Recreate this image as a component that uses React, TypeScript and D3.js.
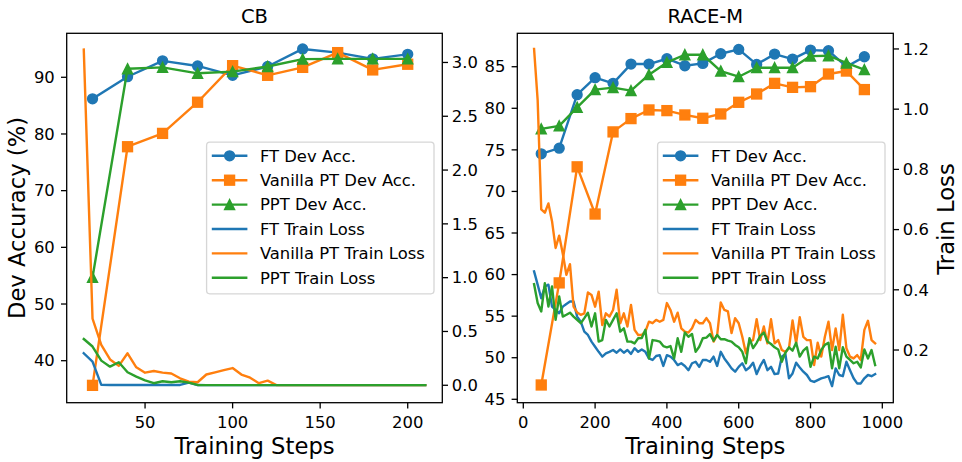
import React from 'react';
import * as d3 from 'd3';

// ---------------- data ----------------
const legendLabels = [
  'FT Dev Acc.',
  'Vanilla PT Dev Acc.',
  'PPT Dev Acc.',
  'FT Train Loss',
  'Vanilla PT Train Loss',
  'PPT Train Loss',
];
const panelTitles = ['CB', 'RACE-M'];

// CB
const cbAccSteps = [20, 40, 60, 80, 100, 120, 140, 160, 180, 200];
const cbFtAcc = [86.2, 90.1, 92.9, 92.0, 90.35, 91.9, 95.0, 94.35, 93.25, 94.05];
const cbVanillaAcc = [35.65, 77.75, 80.1, 85.6, 92.05, 90.35, 91.75, 94.35, 91.3, 92.3];
const cbPptAcc = [54.7, 91.5, 91.75, 90.7, 91.0, 91.9, 93.2, 93.25, 93.25, 93.25];
const cbLossSteps = d3.range(15, 215, 5);
const cbFtLoss = [
  0.297, 0.22, 0.004, 0.003, 0.003, 0.003, 0.003, 0.003, 0.003, 0.003, 0.003, 0.003,
  0.025, 0.002, 0.001, 0.001, 0.001, 0.001, 0.001, 0.001, 0.001, 0.001, 0.001, 0.001,
  0.001, 0.001, 0.001, 0.001, 0.001, 0.001, 0.001, 0.001, 0.001, 0.001, 0.001, 0.001,
  0.001, 0.001, 0.001, 0.001,
];
const cbVanillaLoss = [
  3.12, 0.62, 0.375, 0.24, 0.18, 0.297, 0.167, 0.117, 0.133, 0.117, 0.11, 0.065,
  0.034, 0.028, 0.1, 0.12, 0.14, 0.16, 0.1, 0.07, 0.019, 0.043, 0.002, 0.001,
  0.001, 0.001, 0.001, 0.001, 0.001, 0.001, 0.001, 0.001, 0.001, 0.001, 0.001, 0.001,
  0.001, 0.001, 0.001, 0.001,
];
const cbPptLoss = [
  0.43, 0.36, 0.229, 0.173, 0.214, 0.121, 0.08, 0.045, 0.019, 0.037, 0.028, 0.037,
  0.025, 0.003, 0.001, 0.001, 0.001, 0.001, 0.001, 0.001, 0.001, 0.001, 0.001, 0.001,
  0.001, 0.001, 0.001, 0.001, 0.001, 0.001, 0.001, 0.001, 0.001, 0.001, 0.001, 0.001,
  0.001, 0.001, 0.001, 0.001,
];

// RACE-M
const raceAccSteps = [50, 100, 150, 200, 250, 300, 350, 400, 450, 500, 550, 600, 650, 700, 750, 800, 850, 900, 950];
const raceFtAcc = [74.52, 75.2, 81.64, 83.68, 83.0, 85.32, 85.32, 85.96, 85.12, 85.4, 86.56, 87.08, 85.28, 86.52, 85.92, 87.0, 86.92, 85.0, 86.2];
const raceVanillaAcc = [46.72, 59.0, 72.96, 67.28, 77.16, 78.76, 79.8, 79.72, 79.2, 78.8, 79.32, 80.72, 81.72, 83.0, 82.52, 82.6, 84.12, 84.48, 82.25];
const racePptAcc = [77.52, 77.88, 80.12, 82.24, 82.48, 82.12, 84.04, 85.52, 86.44, 86.44, 84.48, 83.8, 84.88, 84.88, 84.88, 86.28, 86.32, 85.45, 84.65];
const raceLossSteps = d3.range(30, 990, 10);
const raceFtLoss = [
  0.461, 0.417, 0.372, 0.411, 0.417, 0.344, 0.333, 0.322, 0.344, 0.353, 0.361, 0.361,
  0.311, 0.294, 0.261, 0.25, 0.228, 0.211, 0.194, 0.178, 0.189, 0.194, 0.2, 0.191,
  0.202, 0.191, 0.2, 0.187, 0.206, 0.194, 0.202, 0.194, 0.172,
  0.167, 0.18, 0.183, 0.147, 0.183, 0.178, 0.167, 0.15, 0.156, 0.147,
  0.133, 0.156, 0.161, 0.144, 0.167, 0.167, 0.161, 0.178, 0.147, 0.194,
  0.172, 0.156, 0.139, 0.128, 0.144, 0.156, 0.133, 0.142, 0.158, 0.12,
  0.147, 0.167, 0.133, 0.144, 0.12, 0.122, 0.178, 0.187, 0.106, 0.122,
  0.158, 0.142, 0.128, 0.117, 0.098, 0.094, 0.1, 0.106, 0.109, 0.113,
  0.08, 0.139, 0.117, 0.113, 0.161, 0.133, 0.106, 0.089, 0.089, 0.106,
  0.117, 0.113, 0.12,
];
const raceVanillaLoss = [
  1.2, 1.03, 0.667, 0.656, 0.687, 0.628, 0.539, 0.58, 0.52, 0.45, 0.485,
  0.344, 0.325, 0.317, 0.322, 0.391, 0.383, 0.344, 0.394, 0.283, 0.322,
  0.311, 0.333, 0.4, 0.289, 0.322, 0.278, 0.35, 0.267, 0.25, 0.25,
  0.261, 0.294, 0.289, 0.3, 0.294, 0.3, 0.356, 0.333, 0.294, 0.324,
  0.272, 0.261, 0.258, 0.272, 0.3, 0.289, 0.289, 0.306, 0.289, 0.228,
  0.25, 0.358, 0.333, 0.328, 0.256, 0.306, 0.289, 0.244, 0.189, 0.228,
  0.233, 0.302, 0.233, 0.278, 0.222, 0.302, 0.222, 0.233, 0.2, 0.194,
  0.206, 0.298, 0.222, 0.309, 0.244, 0.233, 0.233, 0.15, 0.224, 0.178,
  0.244, 0.294, 0.2, 0.272, 0.2, 0.317, 0.206, 0.178, 0.172, 0.183,
  0.167, 0.267, 0.297, 0.233, 0.222,
];
const racePptLoss = [
  0.419, 0.356, 0.328, 0.422, 0.344, 0.411, 0.3, 0.378, 0.311, 0.317, 0.324, 0.311,
  0.3, 0.289, 0.306, 0.324, 0.278, 0.322,
  0.228, 0.233, 0.3, 0.278, 0.3, 0.322, 0.261, 0.272, 0.228, 0.228,
  0.222, 0.239, 0.24, 0.267, 0.172, 0.233, 0.231, 0.228, 0.213, 0.209,
  0.213, 0.172, 0.239, 0.194, 0.258, 0.244, 0.253, 0.194, 0.211, 0.239,
  0.241, 0.253, 0.231, 0.25, 0.236, 0.236, 0.231, 0.228,
  0.217, 0.209, 0.194, 0.156, 0.239, 0.206, 0.224, 0.247, 0.258, 0.228,
  0.22, 0.209, 0.202, 0.161, 0.191, 0.209, 0.198, 0.224, 0.178, 0.198,
  0.209, 0.144, 0.178, 0.172, 0.2, 0.217, 0.224, 0.139, 0.211, 0.139,
  0.209, 0.178, 0.167, 0.156, 0.161, 0.142, 0.202, 0.172, 0.2, 0.15,
];

// tick labels
const cbXTicks = [50, 100, 150, 200];
const cbAccTicks = [40, 50, 60, 70, 80, 90];
const cbLossTicks = ['0.0', '0.5', '1.0', '1.5', '2.0', '2.5', '3.0'];
const raceXTicks = [0, 200, 400, 600, 800, 1000];
const raceAccTicks = [45, 50, 55, 60, 65, 70, 75, 80, 85];
const raceLossTicks = ['0.2', '0.4', '0.6', '0.8', '1.0', '1.2'];

// ---------------- style ----------------
const COLORS = ['#1f77b4', '#ff7f0e', '#2ca02c'];
const FONT = "'DejaVu Sans', sans-serif";
const TOP = 33.3;
const BOTTOM = 402.7;
const LW = 2.4;
const MS = 9.7;
const TICK_FS = 16.4;
const TICK_LEN = 5.7;

type Panel = {
  title: string;
  x0: number;
  x1: number;
  xDomain: [number, number];
  accDomain: [number, number];
  lossDomain: [number, number];
  xTicks: number[];
  accTicks: number[];
  lossTicks: string[];
  accSteps: number[];
  acc: number[][];
  lossSteps: number[];
  loss: number[][];
  showLeftLabel: boolean;
  showRightLabel: boolean;
};

const panels: Panel[] = [
  {
    title: panelTitles[0],
    x0: 66.7,
    x1: 442.3,
    xDomain: [5.25, 219.75],
    accDomain: [32.59, 97.76],
    lossDomain: [-0.162, 3.271],
    xTicks: cbXTicks,
    accTicks: cbAccTicks,
    lossTicks: cbLossTicks,
    accSteps: cbAccSteps,
    acc: [cbFtAcc, cbVanillaAcc, cbPptAcc],
    lossSteps: cbLossSteps,
    loss: [cbFtLoss, cbVanillaLoss, cbPptLoss],
    showLeftLabel: true,
    showRightLabel: false,
  },
  {
    title: panelTitles[1],
    x0: 517.3,
    x1: 893.3,
    xDomain: [-16.7, 1030.6],
    accDomain: [44.59, 89.02],
    lossDomain: [0.025, 1.252],
    xTicks: raceXTicks,
    accTicks: raceAccTicks,
    lossTicks: raceLossTicks,
    accSteps: raceAccSteps,
    acc: [raceFtAcc, raceVanillaAcc, racePptAcc],
    lossSteps: raceLossSteps,
    loss: [raceFtLoss, raceVanillaLoss, racePptLoss],
    showLeftLabel: false,
    showRightLabel: true,
  },
];

function Marker({ kind, cx, cy, color }: { kind: number; cx: number; cy: number; color: string }) {
  const s = MS;
  if (kind === 0) {
    return <circle cx={cx} cy={cy} r={s / 2} fill={color} stroke={color} strokeWidth={1.6} />;
  }
  if (kind === 1) {
    return <rect x={cx - s / 2} y={cy - s / 2} width={s} height={s} fill={color} stroke={color} strokeWidth={1.6} />;
  }
  const d = `M${cx},${cy - s / 2}L${cx + s / 2},${cy + s / 2}L${cx - s / 2},${cy + s / 2}Z`;
  return <path d={d} fill={color} stroke={color} strokeWidth={1.6} strokeLinejoin="miter" />;
}

function PanelView({ p }: { p: Panel }) {
  const x = d3.scaleLinear().domain(p.xDomain).range([p.x0, p.x1]);
  const yA = d3.scaleLinear().domain(p.accDomain).range([BOTTOM, TOP]);
  const yL = d3.scaleLinear().domain(p.lossDomain).range([BOTTOM, TOP]);
  const lineAcc = d3
    .line<number>()
    .x((_, i) => x(p.accSteps[i]))
    .y((d) => yA(d));
  const lineLoss = d3
    .line<number>()
    .x((_, i) => x(p.lossSteps[i]))
    .y((d) => yL(d));
  const cx = (p.x0 + p.x1) / 2;
  const cy = (TOP + BOTTOM) / 2;

  // legend geometry
  const lgW = 227.4;
  const lgH = 151.6;
  const lgX = p.x1 - 8.3 - lgW;
  const lgY = cy - lgH / 2;
  const rowH = 24.4;

  return (
    <g>
      {/* accuracy lines */}
      {p.acc.map((series, k) => (
        <g key={'a' + k}>
          <path d={lineAcc(series) || ''} fill="none" stroke={COLORS[k]} strokeWidth={LW} strokeLinejoin="round" strokeLinecap="square" />
          {series.map((v, i) => (
            <Marker key={i} kind={k} cx={x(p.accSteps[i])} cy={yA(v)} color={COLORS[k]} />
          ))}
        </g>
      ))}
      {/* loss lines */}
      {p.loss.map((series, k) => (
        <path key={'l' + k} d={lineLoss(series) || ''} fill="none" stroke={COLORS[k]} strokeWidth={LW} strokeLinejoin="round" strokeLinecap="square" />
      ))}

      {/* frame */}
      <rect x={p.x0} y={TOP} width={p.x1 - p.x0} height={BOTTOM - TOP} fill="none" stroke="#000" strokeWidth={1.3} />

      {/* x ticks */}
      {p.xTicks.map((t) => (
        <g key={'x' + t}>
          <line x1={x(t)} x2={x(t)} y1={BOTTOM} y2={BOTTOM + TICK_LEN} stroke="#000" strokeWidth={1.3} />
          <text x={x(t)} y={BOTTOM + TICK_LEN + 8.2} dy="0.71em" textAnchor="middle" fontSize={TICK_FS} fontFamily={FONT} fill="#000">
            {t}
          </text>
        </g>
      ))}
      {/* left acc ticks */}
      {p.accTicks.map((t) => (
        <g key={'ya' + t}>
          <line x1={p.x0} x2={p.x0 - TICK_LEN} y1={yA(t)} y2={yA(t)} stroke="#000" strokeWidth={1.3} />
          <text x={p.x0 - TICK_LEN - 6.2} y={yA(t)} dy="0.35em" textAnchor="end" fontSize={TICK_FS} fontFamily={FONT} fill="#000">
            {t}
          </text>
        </g>
      ))}
      {/* right loss ticks */}
      {p.lossTicks.map((t) => (
        <g key={'yl' + t}>
          <line x1={p.x1} x2={p.x1 + TICK_LEN} y1={yL(+t)} y2={yL(+t)} stroke="#000" strokeWidth={1.3} />
          <text x={p.x1 + TICK_LEN + 3.8} y={yL(+t)} dy="0.35em" textAnchor="start" fontSize={TICK_FS} fontFamily={FONT} fill="#000">
            {t}
          </text>
        </g>
      ))}

      {/* title */}
      <text x={cx} y={22.7} textAnchor="middle" fontSize={19.5} fontFamily={FONT} fill="#000">
        {p.title}
      </text>
      {/* x label */}
      <text x={cx} y={454} textAnchor="middle" fontSize={22.7} fontFamily={FONT} fill="#000">
        Training Steps
      </text>
      {p.showLeftLabel && (
        <text transform={`translate(25,${cy}) rotate(-90)`} textAnchor="middle" fontSize={22.7} fontFamily={FONT} fill="#000">
          Dev Accuracy (%)
        </text>
      )}
      {p.showRightLabel && (
        <text transform={`translate(954,${cy + 1}) rotate(-90)`} textAnchor="middle" fontSize={22.7} fontFamily={FONT} fill="#000">
          Train Loss
        </text>
      )}

      {/* legend */}
      <g>
        <rect x={lgX} y={lgY} width={lgW} height={lgH} rx={3.2} ry={3.2} fill="#fff" fillOpacity={0.8} stroke="#cccccc" strokeOpacity={0.8} strokeWidth={1.3} />
        {legendLabels.map((lab, i) => {
          const ry = lgY + 13.6 + i * rowH;
          const k = i % 3;
          const hx0 = lgX + 5.2;
          const hx1 = lgX + 40.8;
          return (
            <g key={lab}>
              <line x1={hx0} x2={hx1} y1={ry} y2={ry} stroke={COLORS[k]} strokeWidth={LW} />
              {i < 3 && <Marker kind={k} cx={(hx0 + hx1) / 2} cy={ry} color={COLORS[k]} />}
              <text x={lgX + 53.3} y={ry} dy="0.35em" fontSize={TICK_FS} fontFamily={FONT} fill="#000">
                {lab}
              </text>
            </g>
          );
        })}
      </g>
    </g>
  );
}

export default function App() {
  return (
    <svg
      width={962}
      height={462}
      viewBox="0 0 962 462"
      style={{ position: 'absolute', left: 0, top: 0, background: '#fff' }}
    >
      <rect x={0} y={0} width={962} height={462} fill="#fff" />
      {panels.map((p) => (
        <PanelView key={p.title} p={p} />
      ))}
    </svg>
  );
}
